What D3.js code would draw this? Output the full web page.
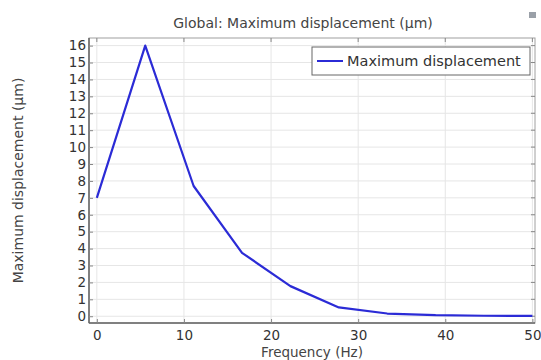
<!DOCTYPE html>
<html><head><meta charset="utf-8">
<script src="https://cdn.jsdelivr.net/npm/d3@7"></script>
<style>body{margin:0;background:#fff;} text{font-family:"DejaVu Sans",Verdana,sans-serif;}</style>
</head><body>
<svg id="c" width="541" height="360"></svg>
<script>
const frequency = [0, 5.556, 11.111, 16.667, 22.222, 27.778, 33.333, 38.889, 44.444, 50];
const displacement = [7.0, 16.0, 7.7, 3.75, 1.78, 0.52, 0.16, 0.06, 0.03, 0.02];
const xTicks = [0, 10, 20, 30, 40, 50];
const yTicks = d3.range(0, 17);
const title = "Global: Maximum displacement (µm)";
const xLabel = "Frequency (Hz)";
const yLabel = "Maximum displacement (µm)";
const seriesName = "Maximum displacement";

const svg = d3.select("#c");
const L = 89, R = 535, T = 38, B = 323;
const x = d3.scaleLinear().domain([-0.9, 50.3]).range([L, R]);
const y = d3.scaleLinear().domain([-0.4, 16.45]).range([B, T]);

// grid
svg.append("g").selectAll("line").data(yTicks).join("line")
  .attr("x1", L).attr("x2", R).attr("y1", d => y(d)).attr("y2", d => y(d))
  .attr("stroke", "#e6e6e6").attr("stroke-width", 1);
svg.append("g").selectAll("line").data(xTicks).join("line")
  .attr("y1", T).attr("y2", B).attr("x1", d => x(d)).attr("x2", d => x(d))
  .attr("stroke", "#e6e6e6").attr("stroke-width", 1);

// frame
svg.append("rect").attr("x", L).attr("y", T).attr("width", R - L).attr("height", B - T)
  .attr("fill", "none").attr("stroke", "#a0a0a0").attr("stroke-width", 1);
svg.append("line").attr("x1", L).attr("x2", R).attr("y1", B).attr("y2", B).attr("stroke", "#666").attr("stroke-width", 1.5);
svg.append("line").attr("x1", L).attr("x2", L).attr("y1", T).attr("y2", B).attr("stroke", "#666").attr("stroke-width", 1.5);

// axes
const xa = svg.append("g").attr("transform", `translate(0,${B})`)
  .call(d3.axisBottom(x).tickValues(xTicks).tickSize(-4).tickPadding(7).tickFormat(d3.format("d")));
const ya = svg.append("g").attr("transform", `translate(${L},0)`)
  .call(d3.axisLeft(y).tickValues(yTicks).tickSize(-4).tickPadding(3).tickFormat(d3.format("d")));
[xa, ya].forEach(a => {
  a.select(".domain").remove();
  a.selectAll("line").attr("stroke", "#888");
  a.selectAll("text").attr("fill", "#333").style("font-size", "13.5px");
});
// top/right ticks
svg.append("g").selectAll("line").data(xTicks).join("line")
  .attr("x1", d => x(d)).attr("x2", d => x(d)).attr("y1", T).attr("y2", T + 4).attr("stroke", "#888");
svg.append("g").selectAll("line").data(yTicks).join("line")
  .attr("x1", R).attr("x2", R - 4).attr("y1", d => y(d)).attr("y2", d => y(d)).attr("stroke", "#888");

// line
const pts = frequency.map((f, i) => [f, displacement[i]]);
svg.append("path").datum(pts)
  .attr("d", d3.line().x(d => x(d[0])).y(d => y(d[1])))
  .attr("fill", "none").attr("stroke", "#2b2bd6").attr("stroke-width", 2.2).attr("stroke-linejoin", "round");

// title
svg.append("text").attr("x", 303).attr("y", 28).attr("text-anchor", "middle")
  .attr("fill", "#444").style("font-size", "14px").text(title);
// icon
svg.append("rect").attr("x", 529).attr("y", 12).attr("width", 7).attr("height", 6).attr("fill", "#9aa0a8");

// axis labels
svg.append("text").attr("x", 312).attr("y", 357).attr("text-anchor", "middle")
  .attr("fill", "#444").style("font-size", "13.5px").text(xLabel);
svg.append("text").attr("transform", `translate(23,${(T + B) / 2}) rotate(-90)`).attr("text-anchor", "middle")
  .attr("fill", "#444").style("font-size", "14px").text(yLabel);

// legend
const lg = svg.append("g");
lg.append("rect").attr("x", 312).attr("y", 47).attr("width", 218).attr("height", 28)
  .attr("fill", "#fff").attr("stroke", "#666").attr("stroke-width", 1);
lg.append("line").attr("x1", 317).attr("x2", 343).attr("y1", 61).attr("y2", 61)
  .attr("stroke", "#2b2bd6").attr("stroke-width", 2);
lg.append("text").attr("x", 347).attr("y", 66).attr("fill", "#333").style("font-size", "14.5px").text(seriesName);
</script>
</body></html>
